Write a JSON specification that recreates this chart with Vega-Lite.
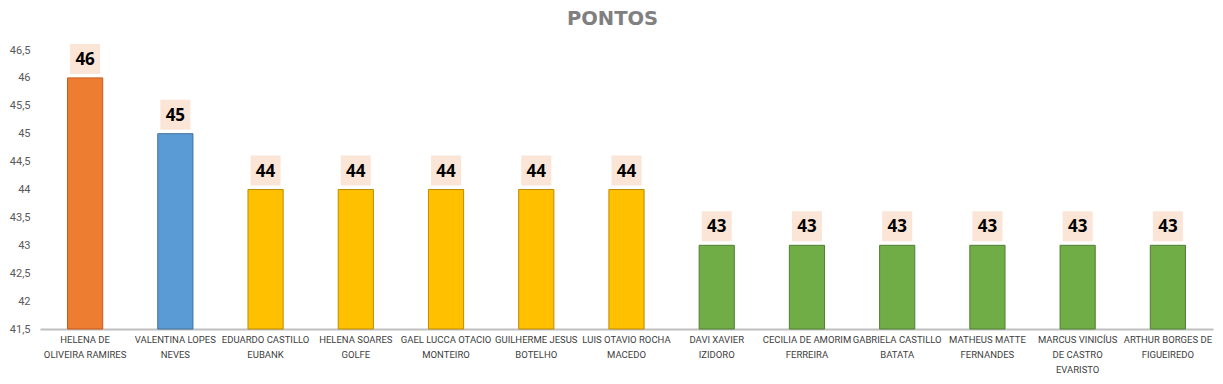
{
  "$schema": "https://vega.github.io/schema/vega-lite/v6.json",
  "width": 1173,
  "height": 279,
  "autosize": "none",
  "padding": {"left": 40, "top": 50, "right": 10, "bottom": 55},
  "background": "white",
  "title": {
    "text": "PONTOS",
    "font": "DejaVu Sans",
    "fontSize": 19.5,
    "fontWeight": "bold",
    "color": "#808080",
    "anchor": "middle",
    "offset": 14,
    "dx": -14
  },
  "config": {"view": {"stroke": null}},
  "data": {
    "values": [
      {"nome": "HELENA DE|OLIVEIRA RAMIRES", "pontos": 46, "cor": "#ED7D31", "borda": "#C55A1E"},
      {"nome": "VALENTINA LOPES|NEVES", "pontos": 45, "cor": "#5B9BD5", "borda": "#41719C"},
      {"nome": "EDUARDO CASTILLO|EUBANK", "pontos": 44, "cor": "#FFC000", "borda": "#BC8C00"},
      {"nome": "HELENA SOARES|GOLFE", "pontos": 44, "cor": "#FFC000", "borda": "#BC8C00"},
      {"nome": "GAEL LUCCA OTACIO|MONTEIRO", "pontos": 44, "cor": "#FFC000", "borda": "#BC8C00"},
      {"nome": "GUILHERME JESUS|BOTELHO", "pontos": 44, "cor": "#FFC000", "borda": "#BC8C00"},
      {"nome": "LUIS OTAVIO ROCHA|MACEDO", "pontos": 44, "cor": "#FFC000", "borda": "#BC8C00"},
      {"nome": "DAVI XAVIER|IZIDORO", "pontos": 43, "cor": "#70AD47", "borda": "#507E32"},
      {"nome": "CECILIA DE AMORIM|FERREIRA", "pontos": 43, "cor": "#70AD47", "borda": "#507E32"},
      {"nome": "GABRIELA CASTILLO|BATATA", "pontos": 43, "cor": "#70AD47", "borda": "#507E32"},
      {"nome": "MATHEUS MATTE|FERNANDES", "pontos": 43, "cor": "#70AD47", "borda": "#507E32"},
      {"nome": "MARCUS VINICÍUS|DE CASTRO|EVARISTO", "pontos": 43, "cor": "#70AD47", "borda": "#507E32"},
      {"nome": "ARTHUR BORGES DE|FIGUEIREDO", "pontos": 43, "cor": "#70AD47", "borda": "#507E32"}
    ]
  },
  "encoding": {
    "x": {
      "field": "nome",
      "type": "nominal",
      "sort": null,
      "scale": {"paddingInner": 0.61, "paddingOuter": 0.305},
      "axis": {
        "title": null,
        "labelAngle": 0,
        "labelExpr": "split(datum.label, '|')",
        "labelFont": "Roboto",
        "labelFontSize": 9.5,
        "labelColor": "#404040",
        "labelLineHeight": 15,
        "labelPadding": 5,
        "ticks": false,
        "domainColor": "#BFBFBF",
        "domainWidth": 2,
        "labelLimit": 0
      }
    },
    "y": {
      "field": "pontos",
      "type": "quantitative",
      "scale": {"domain": [41.5, 46.5], "zero": false, "nice": false},
      "axis": {
        "title": null,
        "values": [41.5, 42, 42.5, 43, 43.5, 44, 44.5, 45, 45.5, 46, 46.5],
        "labelExpr": "replace(format(datum.value, '~g'), '.', ',')",
        "labelFont": "Roboto",
        "labelFontSize": 11,
        "labelColor": "#595959",
        "labelPadding": 10,
        "ticks": false,
        "domain": false,
        "grid": false
      }
    }
  },
  "layer": [
    {
      "mark": {"type": "bar", "strokeWidth": 1},
      "encoding": {
        "y2": {"datum": 41.5},
        "color": {"field": "cor", "type": "nominal", "scale": null},
        "stroke": {"field": "borda", "type": "nominal", "scale": null}
      }
    },
    {
      "mark": {"type": "point", "shape": "square", "filled": true, "size": 900, "color": "#FBE5D6", "opacity": 1, "yOffset": -19},
      "encoding": {}
    },
    {
      "mark": {"type": "text", "font": "Open Sans", "fontSize": 17, "fontWeight": "bold", "color": "#000000", "baseline": "middle", "yOffset": -18},
      "encoding": {"text": {"field": "pontos", "type": "quantitative"}}
    }
  ]
}
